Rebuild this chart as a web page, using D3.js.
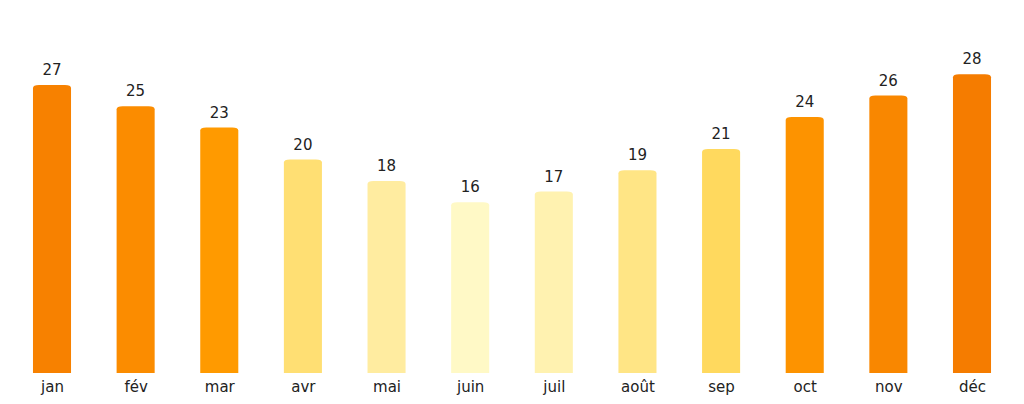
<!DOCTYPE html>
<html>
<head>
<meta charset="utf-8">
<script src="https://cdn.jsdelivr.net/npm/d3@7"></script>
<style>
  body { margin: 0; background: #fff; }
  text { font-family: "DejaVu Sans", sans-serif; fill: #222; }
</style>
</head>
<body>
<svg id="chart"></svg>
<script>
const months = ["jan", "fév", "mar", "avr", "mai", "juin", "juil", "août", "sep", "oct", "nov", "déc"];
const temps = [27, 25, 23, 20, 18, 16, 17, 19, 21, 24, 26, 28];

const width = 1024, height = 404;
const baseY = 373;

const svg = d3.select("#chart")
  .attr("width", width)
  .attr("height", height);

const x = d3.scalePoint()
  .domain(months)
  .range([52, 972]);

const y = d3.scaleLinear()
  .domain([0, 35])
  .range([baseY, baseY - 35 * 10.67]);

const color = d3.scaleLinear()
  .domain([16, 17, 18, 19, 20, 21, 23, 25, 28])
  .range(["#fff9c6", "#fff2b0", "#ffeca0", "#ffe585", "#ffdf73", "#ffd95e", "#ff9a00", "#fb8c00", "#f57c00"]);

const barW = x.step() * 0.455;
const rx = 6, ry = 3;

function barPath(d, i) {
  const x0 = x(months[i]) - barW / 2, x1 = x0 + barW;
  const top = y(d);
  return `M${x0},${baseY} V${top + ry} Q${x0},${top} ${x0 + rx},${top} H${x1 - rx} Q${x1},${top} ${x1},${top + ry} V${baseY} Z`;
}

svg.selectAll("path.bar")
  .data(temps)
  .join("path")
  .attr("class", "bar")
  .attr("d", barPath)
  .attr("fill", d => color(d));

svg.selectAll("text.val")
  .data(temps)
  .join("text")
  .attr("class", "val")
  .attr("x", (d, i) => x(months[i]))
  .attr("y", d => y(d) - 10)
  .attr("text-anchor", "middle")
  .style("font-size", "15px")
  .text(d => d);

const xAxis = svg.append("g")
  .attr("transform", `translate(0,${baseY})`)
  .call(d3.axisBottom(x).tickSize(0).tickPadding(5));
xAxis.select(".domain").remove();
xAxis.selectAll("text")
  .style("font-size", "15px")
  .style("font-family", "DejaVu Sans, sans-serif")
  .attr("fill", "#222")
  .attr("dy", "0.95em");
</script>
</body>
</html>
